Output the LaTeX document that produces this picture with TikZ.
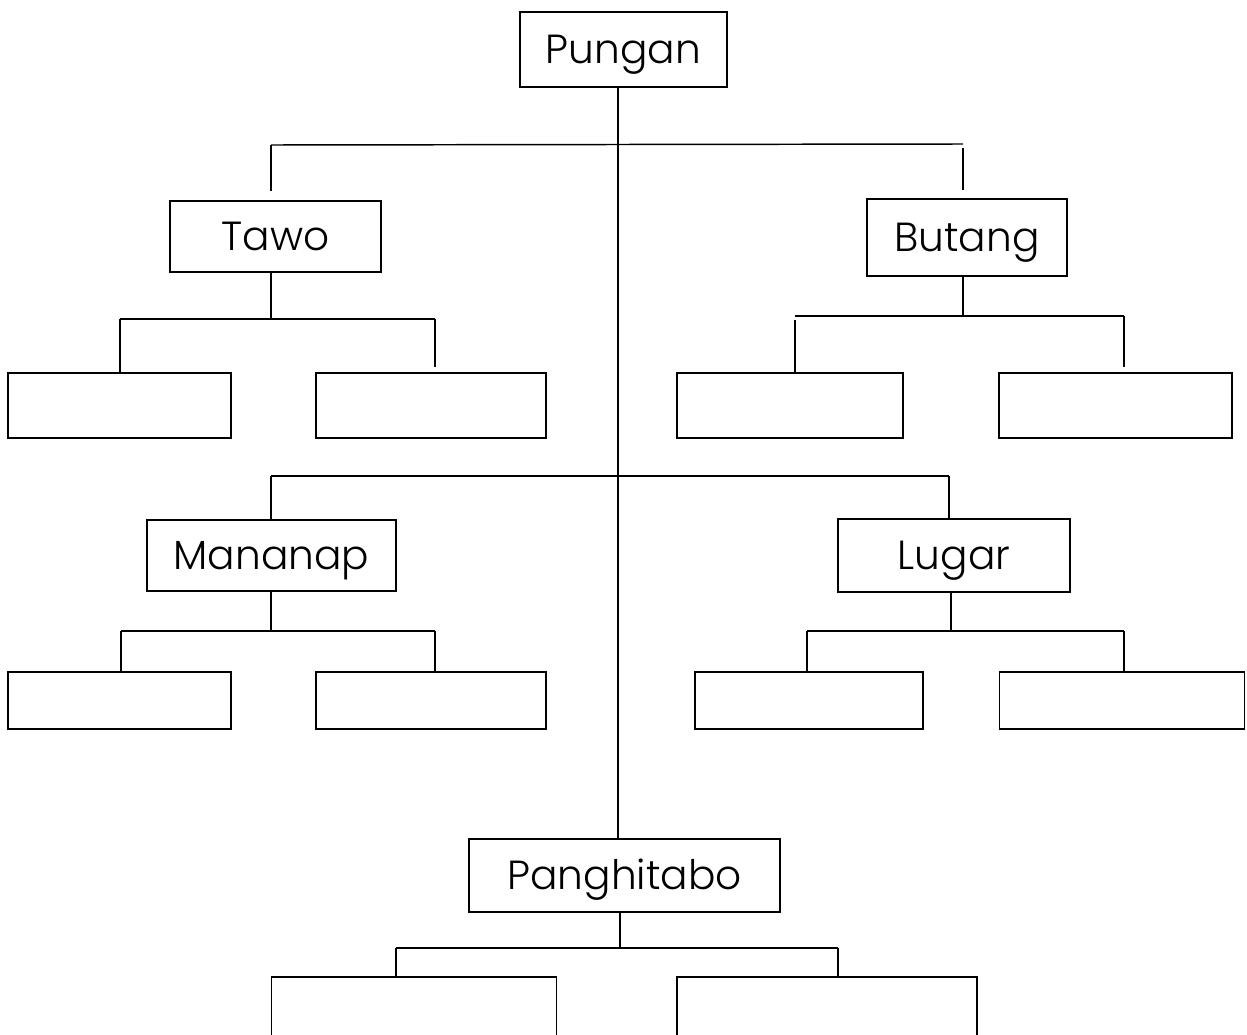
\documentclass[tikz,border=0pt]{standalone}
\usepackage{fontspec}
\setmainfont{Poppins}[UprightFont=* Light]
\usepackage{tikz}
\tikzset{
  box/.style 2 args={draw, line width=1.1pt, inner sep=0pt, font=\fontsize{30.5}{36}\selectfont,
    text height=21pt, text depth=0pt,
    minimum width=#1*0.75pt, minimum height=#2*0.75pt},
  link/.style={line width=1.1pt}
}

\begin{document}
\begin{tikzpicture}[x=0.75pt,y=-0.75pt]
\useasboundingbox (0,0) rectangle (1247,1035);
\clip (0,0) rectangle (1247,1035);
\fill[white] (0,0) rectangle (1247,1035);

\node[box={207}{75}] (pungan) at (623.5,49.5) {Pungan};
\node[box={211}{71}] (tawo) at (275.5,236.5) {Tawo};
\node[box={200}{77}] (butang) at (967,237.5) {Butang};
\node[box={249}{71}] (mananap) at (271.5,555.5) {Mananap};
\node[box={232}{73}] (lugar) at (954,555.5) {Lugar};
\node[box={311}{73}] (panghitabo) at (624.5,875.5) {Panghitabo};

\node[box={223}{65}] (tawoA) at (119.5,405.5) {};
\node[box={230}{65}] (tawoB) at (431,405.5) {};
\node[box={226}{65}] (butangA) at (790,405.5) {};
\node[box={233}{65}] (butangB) at (1115.5,405.5) {};
\node[box={223}{57}] (mananapA) at (119.5,700.5) {};
\node[box={230}{57}] (mananapB) at (431,700.5) {};
\node[box={228}{57}] (lugarA) at (809,700.5) {};
\node[box={245}{57}] (lugarB) at (1122,700.5) {};
\node[box={285}{90}] (panghitaboA) at (414,1022) {};
\node[box={300}{90}] (panghitaboB) at (827,1022) {};

\coordinate (trunk) at (618,0);
\coordinate (barL) at (271,145);
\coordinate (barR) at (963,144);
\coordinate (midL) at (271,476);
\coordinate (midR) at (949,476);
\coordinate (tawoL) at (120,319);
\coordinate (tawoR) at (435,319);
\coordinate (tawoM) at (271,319);
\coordinate (butangL) at (795,316);
\coordinate (butangR) at (1124,316);
\coordinate (butangM) at (963,316);
\coordinate (mananapL) at (121,631);
\coordinate (mananapR) at (435,631);
\coordinate (mananapM) at (271,631);
\coordinate (lugarL) at (807,631);
\coordinate (lugarR) at (1124,631);
\coordinate (lugarM) at (951,631);
\coordinate (panghL) at (396,948);
\coordinate (panghR) at (838,948);
\coordinate (panghM) at (620,948);

\draw[link] (pungan.south -| trunk) -- (panghitabo.north -| trunk);
\draw[link] (barL) -- (barR);
\draw[link,shorten >=7pt] (barL) -- (tawo.north -| barL);
\draw[link,shorten <=3pt,shorten >=6pt] (barR) -- (butang.north -| barR);
\draw[link] (midL) -- (midR);
\draw[link] (midL) -- (mananap.north -| midL);
\draw[link] (midR) -- (lugar.north -| midR);

\draw[link] (tawo.south -| tawoM) -- (tawoM);
\draw[link] (tawoL) -- (tawoR);
\draw[link] (tawoL) -- (tawoA.north -| tawoL);
\draw[link,shorten >=4pt] (tawoR) -- (tawoB.north -| tawoR);

\draw[link] (butang.south -| butangM) -- (butangM);
\draw[link] (butangL) -- (butangR);
\draw[link,shorten <=3pt] (butangL) -- (butangA.north -| butangL);
\draw[link,shorten >=4pt] (butangR) -- (butangB.north -| butangR);

\draw[link] (mananap.south -| mananapM) -- (mananapM);
\draw[link] (mananapL) -- (mananapR);
\draw[link] (mananapL) -- (mananapA.north -| mananapL);
\draw[link] (mananapR) -- (mananapB.north -| mananapR);

\draw[link] (lugar.south -| lugarM) -- (lugarM);
\draw[link] (lugarL) -- (lugarR);
\draw[link] (lugarL) -- (lugarA.north -| lugarL);
\draw[link] (lugarR) -- (lugarB.north -| lugarR);

\draw[link] (panghitabo.south -| panghM) -- (panghM);
\draw[link] (panghL) -- (panghR);
\draw[link] (panghL) -- (panghitaboA.north -| panghL);
\draw[link] (panghR) -- (panghitaboB.north -| panghR);
\end{tikzpicture}
\end{document}
